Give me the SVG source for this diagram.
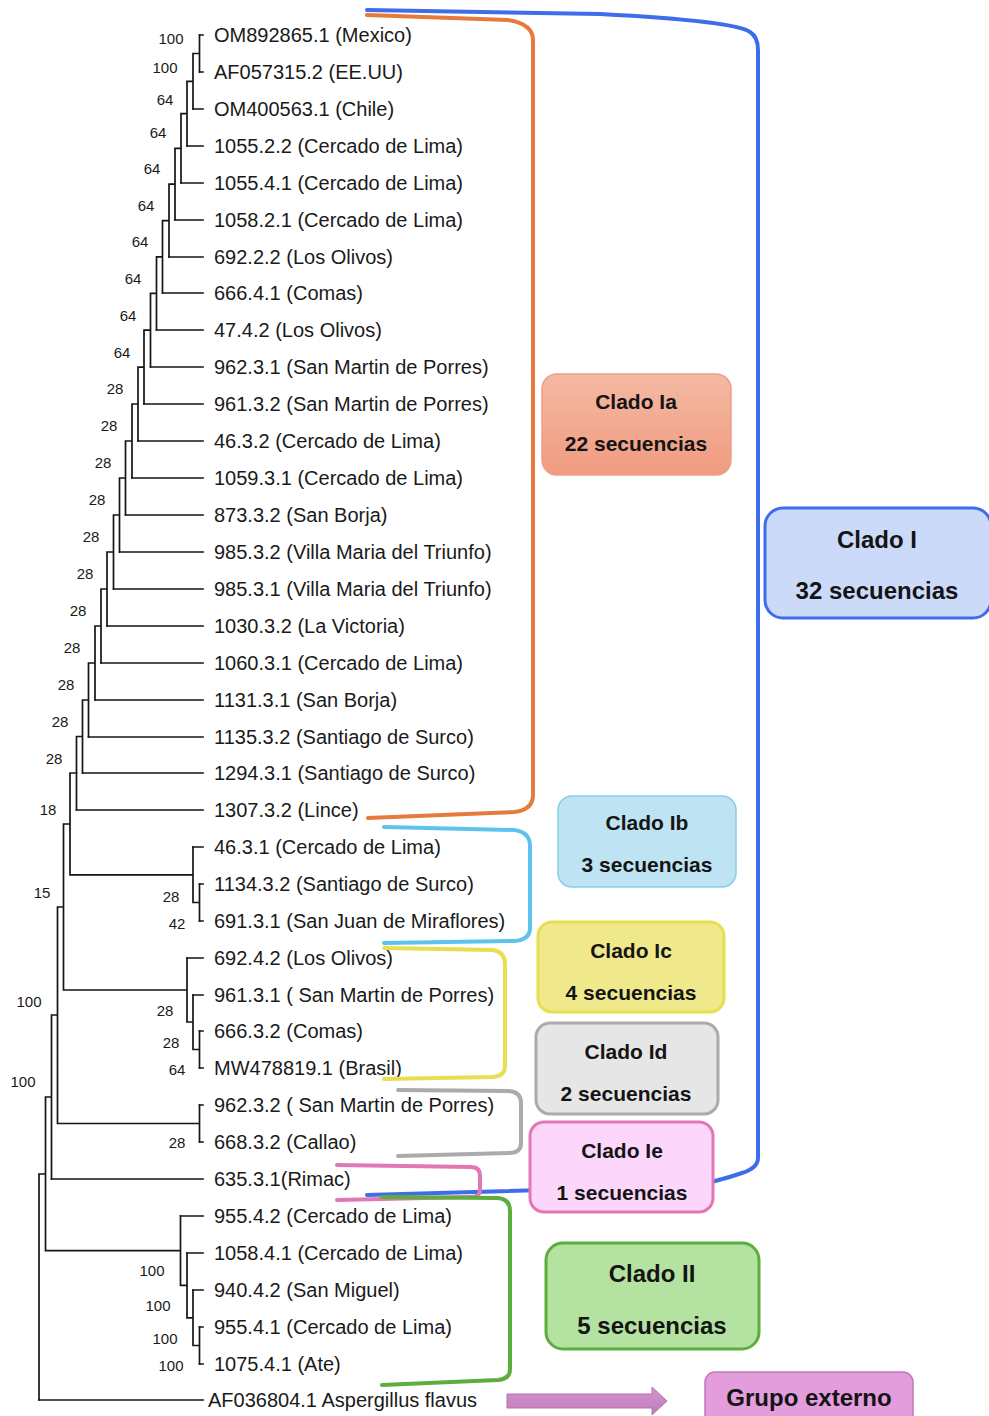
<svg xmlns="http://www.w3.org/2000/svg" width="989" height="1416" viewBox="0 0 989 1416">
<defs>
<style>
.leaf{font-family:"Liberation Sans",Arial,sans-serif;font-size:20px;fill:#1a1a1a}
.bs{font-family:"Liberation Sans",Arial,sans-serif;font-size:15px;fill:#1a1a1a;text-anchor:middle}
.tree{fill:none;stroke:#151515;stroke-width:1.7;stroke-linecap:square}
.br{fill:none;stroke-width:4;stroke-linecap:round;stroke-linejoin:round}
.bt{font-family:"Liberation Sans",Arial,sans-serif;font-weight:bold;font-size:21px;fill:#141414;text-anchor:middle}
.bt2{font-family:"Liberation Sans",Arial,sans-serif;font-weight:bold;font-size:24px;fill:#141414;text-anchor:middle}
</style>
<linearGradient id="gIa" x1="0" y1="0" x2="0" y2="1"><stop offset="0" stop-color="#F4B9A3"/><stop offset="1" stop-color="#F09B80"/></linearGradient>
<linearGradient id="gArr" x1="0" y1="0" x2="0" y2="1"><stop offset="0" stop-color="#D394CF"/><stop offset="1" stop-color="#C07DBB"/></linearGradient>
</defs>
<rect width="989" height="1416" fill="#ffffff"/>

<g id="connectors">
<path class="tree" d="M199.5,35H203M199.5,72H203M193,109H203M187,146H203M181,183H203M175,220H203M169,257H203M162.5,293H203M156.5,330H203M150.5,367H203M144,404H203M138,441H203M132,478H203M125.5,515H203M119.5,552H203M113.5,589H203M107,626H203M101,663H203M95,700H203M88.5,737H203M82.5,773H203M76.5,810H203M193,847H203M199.5,884H203M199.5,921H203M187,958H203M193,995H203M199.5,1031H203M199.5,1068H203M199.5,1105H203M199.5,1142H203M51.5,1179H203M180.5,1216H203M187,1253H203M193,1290H203M199.5,1327H203M199.5,1364H203M39,1400H203"/>
<path class="tree" d="M199.5,35V72M193,53.5V109M193,53.5H199.5M187,81.3V146M187,81.3H193M181,113.6V183M181,113.6H187M175,148.3V220M175,148.3H181M169,184.2V257M169,184.2H175M162.5,220.6V293M162.5,220.6H169M156.5,256.8V330M156.5,256.8H162.5M150.5,293.4V367M150.5,293.4H156.5M144,330.2V404M144,330.2H150.5M138,367.1V441M138,367.1H144M132,404V478M132,404H138M125.5,441V515M125.5,441H132M119.5,478V552M119.5,478H125.5M113.5,515V589M113.5,515H119.5M107,552V626M107,552H113.5M101,589V663M101,589H107M95,626V700M95,626H101M88.5,663V737M88.5,663H95M82.5,700V773M82.5,700H88.5M76.5,736.5V810M76.5,736.5H82.5"/>
<path class="tree" d="M70,773V874.8M70,773H76.5M70,874.8H193M193,847V902.5M193,902.5H199.5M199.5,884V921M63.5,824V990M63.5,824H70M63.5,990H187M187,958V1022M187,1022H193M193,995V1049.5M193,1049.5H199.5M199.5,1031V1068M57.5,907V1123.5M57.5,907H63.5M57.5,1123.5H199.5M199.5,1105V1142M51.5,1015V1179M51.5,1015H57.5M45.5,1097V1250.7M45.5,1097H51.5M45.5,1250.7H180.5M180.5,1216V1285.4M180.5,1285.4H187M187,1253V1317.8M187,1317.8H193M193,1290V1345.5M193,1345.5H199.5M199.5,1327V1364M39,1174V1400M39,1174H45.5"/>
</g>

<g id="bootstrap">
<text class="bs" x="171" y="44">100</text>
<text class="bs" x="165" y="73">100</text>
<text class="bs" x="165" y="105">64</text>
<text class="bs" x="158" y="138">64</text>
<text class="bs" x="152" y="174">64</text>
<text class="bs" x="146" y="211">64</text>
<text class="bs" x="140" y="247">64</text>
<text class="bs" x="133" y="284">64</text>
<text class="bs" x="128" y="321">64</text>
<text class="bs" x="122" y="358">64</text>
<text class="bs" x="115" y="394">28</text>
<text class="bs" x="109" y="431">28</text>
<text class="bs" x="103" y="468">28</text>
<text class="bs" x="97" y="505">28</text>
<text class="bs" x="91" y="542">28</text>
<text class="bs" x="85" y="579">28</text>
<text class="bs" x="78" y="616">28</text>
<text class="bs" x="72" y="653">28</text>
<text class="bs" x="66" y="690">28</text>
<text class="bs" x="60" y="727">28</text>
<text class="bs" x="54" y="764">28</text>
<text class="bs" x="48" y="815">18</text>
<text class="bs" x="42" y="898">15</text>
<text class="bs" x="171" y="902">28</text>
<text class="bs" x="177" y="929">42</text>
<text class="bs" x="29" y="1007">100</text>
<text class="bs" x="165" y="1016">28</text>
<text class="bs" x="171" y="1048">28</text>
<text class="bs" x="177" y="1075">64</text>
<text class="bs" x="23" y="1087">100</text>
<text class="bs" x="177" y="1148">28</text>
<text class="bs" x="152" y="1276">100</text>
<text class="bs" x="158" y="1311">100</text>
<text class="bs" x="165" y="1344">100</text>
<text class="bs" x="171" y="1371">100</text>
</g>

<g id="leaves">
<g id="leaf-0"><text class="leaf" x="214" y="42">OM892865.1 (Mexico)</text></g>
<g id="leaf-1"><text class="leaf" x="214" y="79">AF057315.2 (EE.UU)</text></g>
<g id="leaf-2"><text class="leaf" x="214" y="116">OM400563.1 (Chile)</text></g>
<g id="leaf-3"><text class="leaf" x="214" y="153">1055.2.2 (Cercado de Lima)</text></g>
<g id="leaf-4"><text class="leaf" x="214" y="190">1055.4.1 (Cercado de Lima)</text></g>
<g id="leaf-5"><text class="leaf" x="214" y="227">1058.2.1 (Cercado de Lima)</text></g>
<g id="leaf-6"><text class="leaf" x="214" y="264">692.2.2 (Los Olivos)</text></g>
<g id="leaf-7"><text class="leaf" x="214" y="300">666.4.1 (Comas)</text></g>
<g id="leaf-8"><text class="leaf" x="214" y="337">47.4.2 (Los Olivos)</text></g>
<g id="leaf-9"><text class="leaf" x="214" y="374">962.3.1 (San Martin de Porres)</text></g>
<g id="leaf-10"><text class="leaf" x="214" y="411">961.3.2 (San Martin de Porres)</text></g>
<g id="leaf-11"><text class="leaf" x="214" y="448">46.3.2 (Cercado de Lima)</text></g>
<g id="leaf-12"><text class="leaf" x="214" y="485">1059.3.1 (Cercado de Lima)</text></g>
<g id="leaf-13"><text class="leaf" x="214" y="522">873.3.2 (San Borja)</text></g>
<g id="leaf-14"><text class="leaf" x="214" y="559">985.3.2 (Villa Maria del Triunfo)</text></g>
<g id="leaf-15"><text class="leaf" x="214" y="596">985.3.1 (Villa Maria del Triunfo)</text></g>
<g id="leaf-16"><text class="leaf" x="214" y="633">1030.3.2 (La Victoria)</text></g>
<g id="leaf-17"><text class="leaf" x="214" y="670">1060.3.1 (Cercado de Lima)</text></g>
<g id="leaf-18"><text class="leaf" x="214" y="707">1131.3.1 (San Borja)</text></g>
<g id="leaf-19"><text class="leaf" x="214" y="744">1135.3.2 (Santiago de Surco)</text></g>
<g id="leaf-20"><text class="leaf" x="214" y="780">1294.3.1 (Santiago de Surco)</text></g>
<g id="leaf-21"><text class="leaf" x="214" y="817">1307.3.2 (Lince)</text></g>
<g id="leaf-22"><text class="leaf" x="214" y="854">46.3.1 (Cercado de Lima)</text></g>
<g id="leaf-23"><text class="leaf" x="214" y="891">1134.3.2 (Santiago de Surco)</text></g>
<g id="leaf-24"><text class="leaf" x="214" y="928">691.3.1 (San Juan de Miraflores)</text></g>
<g id="leaf-25"><text class="leaf" x="214" y="965">692.4.2 (Los Olivos)</text></g>
<g id="leaf-26"><text class="leaf" x="214" y="1002">961.3.1 ( San Martin de Porres)</text></g>
<g id="leaf-27"><text class="leaf" x="214" y="1038">666.3.2 (Comas)</text></g>
<g id="leaf-28"><text class="leaf" x="214" y="1075">MW478819.1 (Brasil)</text></g>
<g id="leaf-29"><text class="leaf" x="214" y="1112">962.3.2 ( San Martin de Porres)</text></g>
<g id="leaf-30"><text class="leaf" x="214" y="1149">668.3.2 (Callao)</text></g>
<g id="leaf-31"><text class="leaf" x="214" y="1186">635.3.1(Rimac)</text></g>
<g id="leaf-32"><text class="leaf" x="214" y="1223">955.4.2 (Cercado de Lima)</text></g>
<g id="leaf-33"><text class="leaf" x="214" y="1260">1058.4.1 (Cercado de Lima)</text></g>
<g id="leaf-34"><text class="leaf" x="214" y="1297">940.4.2 (San Miguel)</text></g>
<g id="leaf-35"><text class="leaf" x="214" y="1334">955.4.1 (Cercado de Lima)</text></g>
<g id="leaf-36"><text class="leaf" x="214" y="1371">1075.4.1 (Ate)</text></g>
<g id="leaf-37"><text class="leaf" x="208" y="1407">AF036804.1 Aspergillus flavus</text></g>
</g>

<g id="brackets">
<path class="br" stroke="#3D6DE9" d="M367,10 L600,14 Q735,21 750,32 Q758,37 758,50 L758,1158 Q758,1168 742,1173 Q716,1182 690,1186 L367,1195"/>
<path class="br" stroke="#E67A3C" d="M367,15 L508,20 Q533,24 533,40 L533,795 Q533,810 514,812 L368,818"/>
<path class="br" stroke="#5EC3EC" d="M384,827 L514,830 Q530,832 530,846 L530,928 Q530,940 514,941 L384,943"/>
<path class="br" stroke="#E8DF50" d="M384,948 L493,950 Q505,952 505,964 L505,1066 Q505,1076 493,1077 L384,1079"/>
<path class="br" stroke="#ABABAB" d="M398,1090 L509,1091 Q521,1092 521,1103 L521,1143 Q521,1153 509,1153 L398,1156"/>
<path class="br" stroke="#E177B3" d="M337,1165 L471,1167 Q480,1167 480,1176 L480,1190 Q480,1197 471,1197 L337,1200"/>
<path class="br" stroke="#5DAE3D" d="M382,1197 L498,1198 Q510,1199 510,1211 L510,1369 Q510,1379 498,1380 L382,1385"/>
</g>

<g id="clado-Ia">
<rect x="542" y="374" width="189" height="101" rx="15" fill="url(#gIa)" stroke="#EE9E84" stroke-width="1.5"/>
<text class="bt" x="636" y="409">Clado Ia</text>
<text class="bt" x="636" y="451">22 secuencias</text>
</g>
<g id="clado-I">
<rect x="765" y="508" width="226" height="110" rx="18" fill="#CCDAFA" stroke="#3D6DE9" stroke-width="3"/>
<text class="bt2" x="877" y="548">Clado I</text>
<text class="bt2" x="877" y="599">32 secuencias</text>
</g>
<g id="clado-Ib">
<rect x="558" y="796" width="178" height="91" rx="14" fill="#BEE3F3" stroke="#86CDEC" stroke-width="1.5"/>
<text class="bt" x="647" y="830">Clado Ib</text>
<text class="bt" x="647" y="872">3 secuencias</text>
</g>
<g id="clado-Ic">
<rect x="538" y="922" width="186" height="90" rx="14" fill="#F0E98C" stroke="#E8DF50" stroke-width="3"/>
<text class="bt" x="631" y="958">Clado Ic</text>
<text class="bt" x="631" y="1000">4 secuencias</text>
</g>
<g id="clado-Id">
<rect x="536" y="1023" width="182" height="91" rx="14" fill="#E6E6E6" stroke="#ABABAB" stroke-width="3"/>
<text class="bt" x="626" y="1059">Clado Id</text>
<text class="bt" x="626" y="1101">2 secuencias</text>
</g>
<g id="clado-Ie">
<rect x="530" y="1122" width="183" height="90" rx="14" fill="#FDD6FB" stroke="#E177B3" stroke-width="3"/>
<text class="bt" x="622" y="1158">Clado Ie</text>
<text class="bt" x="622" y="1200">1 secuencias</text>
</g>
<g id="clado-II">
<rect x="546" y="1243" width="213" height="106" rx="17" fill="#B3E2A1" stroke="#5DAE3D" stroke-width="3"/>
<text class="bt2" x="652" y="1282">Clado II</text>
<text class="bt2" x="652" y="1334">5 secuencias</text>
</g>
<g id="arrow">
<path d="M507,1394 H652 V1387 L667,1401 L652,1415 V1408 H507 Z" fill="url(#gArr)" stroke="#B373AF" stroke-width="1"/>
</g>
<g id="grupo-externo">
<rect x="705" y="1372" width="208" height="56" rx="10" fill="#E39CDC" stroke="#C078BA" stroke-width="1.5"/>
<text class="bt2" x="809" y="1406">Grupo externo</text>
</g>
</svg>
